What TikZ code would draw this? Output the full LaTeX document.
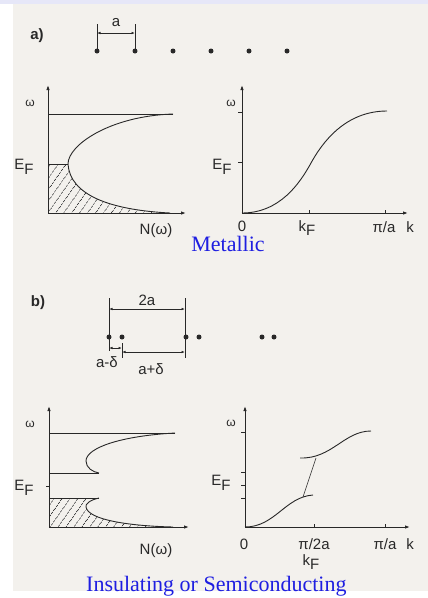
\documentclass[tikz,border=0pt]{standalone}
\usepackage{fontspec}
\setmainfont{Liberation Serif}
\newfontfamily\labelfont{Liberation Sans}
\usepackage{xcolor}
\usetikzlibrary{arrows.meta, positioning, calc, patterns.meta}

\definecolor{ink}{RGB}{40,40,40}
\definecolor{paper}{RGB}{243,241,237}
\definecolor{bandtop}{RGB}{230,231,248}
\definecolor{captionblue}{RGB}{30,30,225}

\newcommand{\EF}{E\raisebox{-0.55ex}{F}}
\newcommand{\kF}{k\raisebox{-0.6ex}{F}}

\begin{document}
\begin{tikzpicture}[
  x=1pt, y=-1pt,
  axis/.style={
    draw=ink,
    line width=1pt,
    -{Latex[length=5pt,width=3.5pt]}
  },
  curve/.style={draw=ink, line width=0.9pt},
  level/.style={draw=ink, line width=1pt},
  tick/.style={draw=ink, line width=0.8pt},
  guide/.style={draw=ink, line width=0.8pt},
  dim/.style={
    draw=ink,
    line width=0.7pt,
    {Latex[length=3.5pt,width=2.6pt]}-{Latex[length=3.5pt,width=2.6pt]}
  },
  atom/.style={circle, fill=ink, inner sep=0pt, minimum size=5pt},
  hatch/.style={
    pattern={Lines[angle=55,distance=6.5pt,line width=0.6pt]},
    pattern color=ink
  },
  lbl/.style={font=\labelfont\fontsize{15}{16}\selectfont, text=ink, inner sep=1pt},
  small/.style={font=\labelfont\fontsize{12}{13}\selectfont, text=ink, inner sep=1pt},
  panel/.style={font=\labelfont\bfseries\fontsize{15}{16}\selectfont, text=ink, inner sep=1pt},
  caption/.style={font=\fontsize{22}{25}\selectfont, text=captionblue, inner sep=0pt}
]
\useasboundingbox (0,0) rectangle (428,598);
\clip (0,0) rectangle (428,598);

% Scanned page background
\fill[white] (0,0) rectangle (428,598);
\fill[paper] (13,4) rectangle (428,591);
\fill[bandtop] (0,0) rectangle (428,4);

% ---------------- a) uniform chain ----------------
\node[panel] (pa) at (37,36) {a)};

\foreach \i/\x in {1/97,2/135,3/173,4/211,5/249,6/287}
  \node[atom] (a\i) at (\x,51) {};

\coordinate (aL) at (97,24);
\coordinate (aR) at (135,24);
\draw[guide] (aL) -- (a1.center);
\draw[guide] (aR) -- (a2.center);
\coordinate (aLd) at (97,33);
\coordinate (aRd) at (135,33);
\draw[dim] (aLd) -- (aRd);
\node[lbl] (alabel) at (116,23) {a};

% Metallic density of states
\coordinate (o1) at (48,213);
\coordinate (y1) at (48,85);
\coordinate (x1) at (186,213);
\coordinate (top1) at (173,114);
\coordinate (ef1) at (68,164);
\coordinate (tail1) at (170,213);

\fill[hatch] (48,164) -- (ef1) .. controls (70,195) and (110,210) .. (tail1) -- (o1) -- cycle;
\draw[axis] (o1) -- (y1);
\draw[axis] (o1) -- (x1);
\draw[level] (48,114) -- (top1);
\draw[level] (48,164) -- (ef1);
\draw[curve] (top1) .. controls (110,116) and (68,145) .. (ef1)
  .. controls (70,195) and (110,210) .. (tail1);

\node[small] (w1) at (30,103) {ω};
\node[lbl] (efa) at (24,167) {\EF};
\node[lbl] (n1) at (156,231) {N(ω)};

% Metallic dispersion
\coordinate (o2) at (242,213);
\coordinate (y2) at (242,85);
\coordinate (x2) at (408,213);
\coordinate (kf2) at (311,163);
\coordinate (end2) at (387,111);

\draw[axis] (o2) -- (y2);
\draw[axis] (o2) -- (x2);
\foreach \y in {112,162}
  \draw[tick] (242,\y) -- ++(-4,0);
\foreach \x in {309,385}
  \draw[tick] (\x,213) -- ++(0,-3);
\draw[curve] (o2) .. controls (280,213) and (300,183) .. (kf2)
  .. controls (322,143) and (345,111) .. (end2);

\node[small] (w2) at (231,103) {ω};
\node[lbl] (efb) at (222,167) {\EF};
\node[lbl] (zero2) at (242,226) {0};
\node[lbl] (kfb) at (307,228) {\kF};
\node[lbl] (pia2) at (384,227) {π/a};
\node[lbl] (k2) at (410,227) {k};

\node[caption] (metal) at (228,244) {Metallic};

% ---------------- b) dimerized chain ----------------
\node[panel] (pb) at (38,303) {b)};

\foreach \i/\x in {1/109,2/122,3/186,4/199,5/262,6/274}
  \node[atom] (b\i) at (\x,337) {};

\coordinate (bLt) at (109,298);
\coordinate (bLb) at (109,351);
\coordinate (bRt) at (185,298);
\coordinate (bRb) at (185,358);
\coordinate (bMt) at (122,343);
\coordinate (bMb) at (122,358);
\draw[guide] (bLt) -- (bLb);
\draw[guide] (bRt) -- (bRb);
\draw[guide] (bMt) -- (bMb);

\draw[dim] (109,309) -- (185,309);
\node[lbl] (twoa) at (147,300) {2a};
\draw[dim] (109,348) -- (122,348);
\node[lbl] (amd) at (107,362) {a-δ};
\draw[dim] (122,352) -- (185,352);
\node[lbl] (apd) at (151,369) {a+δ};

% Insulating density of states
\coordinate (o3) at (49,527);
\coordinate (y3) at (49,406);
\coordinate (x3) at (189,527);
\coordinate (top3) at (175,433);
\coordinate (gap3a) at (99,473);
\coordinate (gap3b) at (99,498);
\coordinate (tail3) at (173,527);

\fill[hatch] (49,498) -- (gap3b) .. controls (90,500) and (85,504) .. (86,507)
  .. controls (88,520) and (130,526) .. (tail3) -- (o3) -- cycle;
\draw[axis] (o3) -- (y3);
\draw[axis] (o3) -- (x3);
\draw[level] (49,433) -- (top3);
\draw[level] (49,473) -- (gap3a);
\draw[level] (49,498) -- (gap3b);
\draw[tick] (49,486) -- ++(-3,0);
\draw[curve] (top3) .. controls (120,436) and (86,448) .. (86,461)
  .. controls (86,468) and (93,472) .. (gap3a);
\draw[curve] (gap3b) .. controls (90,500) and (85,504) .. (86,507)
  .. controls (88,520) and (130,526) .. (tail3);

\node[small] (w3) at (30,424) {ω};
\node[lbl] (efc) at (24,488) {\EF};
\node[lbl] (n3) at (156,551) {N(ω)};

% Insulating dispersion
\coordinate (o4) at (245,527);
\coordinate (y4) at (245,406);
\coordinate (x4) at (410,527);
\coordinate (low4) at (313,495);
\coordinate (jump4a) at (303,497);
\coordinate (jump4b) at (316,458);
\coordinate (up4) at (300,458);
\coordinate (end4) at (371,431);

\draw[axis] (o4) -- (y4);
\draw[axis] (o4) -- (x4);
\foreach \y in {432,472,485,498}
  \draw[tick] (245,\y) -- ++(-4,0);
\foreach \x in {314,385}
  \draw[tick] (\x,527) -- ++(0,-3);
\draw[curve] (o4) .. controls (275,527) and (285,497) .. (low4);
\draw[curve, line width=0.6pt] (jump4a) -- (jump4b);
\draw[curve] (up4) .. controls (332,459) and (344,431) .. (end4);

\node[small] (w4) at (231,423) {ω};
\node[lbl] (efd) at (221,483) {\EF};
\node[lbl] (zero4) at (244,544) {0};
\node[lbl] (pi2a4) at (314,544) {π/2a};
\node[lbl] (pia4) at (385,544) {π/a};
\node[lbl] (k4) at (410,544) {k};
\node[lbl] (kfd) at (311,562) {\kF};

\node[caption, anchor=north west] (insul) at (86,576) {Insulating or Semiconducting};

\end{tikzpicture}
\end{document}
